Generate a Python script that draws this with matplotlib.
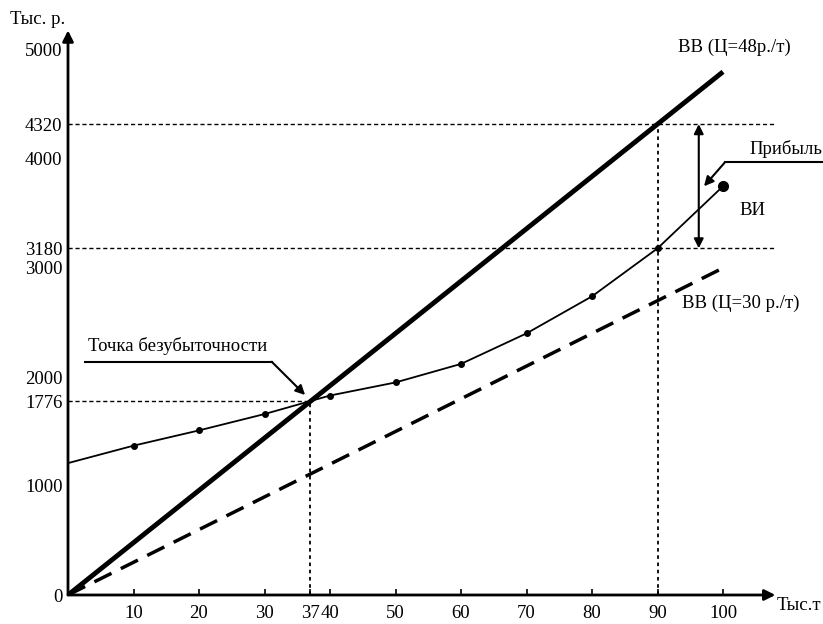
import numpy as np
import matplotlib
matplotlib.use('Agg')
import matplotlib.pyplot as plt

plt.rcParams['font.family'] = ['Liberation Serif', 'DejaVu Serif']

# data
x_ticks = [10, 20, 30, 37, 40, 50, 60, 70, 80, 90, 100]
y_ticks = [0, 1000, 1776, 2000, 3000, 3180, 4000, 4320, 5000]

bb48_x = [0, 100]
bb48_y = [0, 4800]
bb30_x = [0, 100]
bb30_y = [0, 3000]

vi_x = [0, 10, 20, 30, 40, 50, 60, 70, 80, 90, 100]
vi_y = [1210, 1370, 1510, 1660, 1830, 1950, 2120, 2400, 2740, 3180, 3750]

be_x, be_y = 37, 1776
q_x, top_y, bot_y = 90, 4320, 3180

fs = 13.5

fig = plt.figure(figsize=(8.23, 6.24), dpi=100)
ax = fig.add_axes([68/823, 29/624, 755/823, 595/624])
ax.set_xlim(0, 755/6.55)
ax.set_ylim(0, 595/0.109)
for s in ax.spines.values():
    s.set_visible(False)

# axes with arrows
ax.annotate('', xy=(0, 5180), xytext=(0, 0), annotation_clip=False,
            arrowprops=dict(arrowstyle='-|>', lw=2, color='black', mutation_scale=16, shrinkA=0, shrinkB=0))
ax.annotate('', xy=(108, 0), xytext=(0, 0), annotation_clip=False,
            arrowprops=dict(arrowstyle='-|>', lw=2, color='black', mutation_scale=16, shrinkA=0, shrinkB=0))

ax.set_xticks(x_ticks)
ax.set_xticklabels([str(v) for v in x_ticks], fontsize=fs)
ax.set_yticks(y_ticks)
ax.set_yticklabels([str(v) for v in y_ticks], fontsize=fs)
ax.tick_params(axis='x', direction='in', length=4, width=1.2, pad=7)
ax.tick_params(axis='y', length=0, pad=4)

# guide lines
dot = (0, (3, 2))
ax.plot([0, 108], [top_y, top_y], color='black', lw=1, ls=dot)
ax.plot([0, 108], [bot_y, bot_y], color='black', lw=1, ls=dot)
ax.plot([0, be_x], [be_y, be_y], color='black', lw=1, ls=dot)
ax.plot([be_x, be_x], [0, be_y], color='black', lw=1.3, ls=(0, (2, 2)))
ax.plot([q_x, q_x], [0, top_y], color='black', lw=1.3, ls=(0, (2, 2)))

# revenue lines
ax.plot(bb48_x, bb48_y, color='black', lw=3.5, solid_capstyle='butt')
ax.plot(bb30_x, bb30_y, color='black', lw=2.5, dashes=(5.5, 3))

# costs
ax.plot(vi_x, vi_y, color='black', lw=1.3)
ax.plot(vi_x[1:-1], vi_y[1:-1], 'o', color='black', ms=4)
ax.plot(vi_x[-1], vi_y[-1], 'o', color='black', ms=7)

# profit arrow
ax.annotate('', xy=(96.3, top_y), xytext=(96.3, bot_y),
            arrowprops=dict(arrowstyle='<|-|>', lw=1.5, color='black', mutation_scale=14, shrinkA=0, shrinkB=0))

# break-even annotation
ax.plot([2.6, 31.1], [2140, 2140], color='black', lw=1.5, clip_on=False)
ax.annotate('', xy=(36.2, 1835), xytext=(31.1, 2140),
            arrowprops=dict(arrowstyle='-|>', lw=1.5, color='black', mutation_scale=14, shrinkA=0, shrinkB=0))
ax.text(3.0, 2200, 'Точка безубыточности', fontsize=fs, va='bottom', ha='left')

# profit label
ax.plot([100.3, 115.3], [3970, 3970], color='black', lw=1.5, clip_on=False)
ax.annotate('', xy=(97.1, 3750), xytext=(100.3, 3970),
            arrowprops=dict(arrowstyle='-|>', lw=1.5, color='black', mutation_scale=14, shrinkA=0, shrinkB=0))
ax.text(115.2, 4010, 'Прибыль', fontsize=fs, va='bottom', ha='right')

ax.text(102.5, 3530, 'ВИ', fontsize=fs, va='center', ha='left')
ax.text(93.2, 5020, 'ВВ (Ц=48р./т)', fontsize=fs, va='center', ha='left')
ax.text(93.8, 2680, 'ВВ (Ц=30 р./т)', fontsize=fs, va='center', ha='left')

fig.text(10/823, 1 - 20/624, 'Тыс. р.', fontsize=fs, va='center', ha='left')
fig.text(821/823, 1 - 605/624, 'Тыс.т', fontsize=fs, va='center', ha='right')

fig.savefig('out.png', dpi=100)
